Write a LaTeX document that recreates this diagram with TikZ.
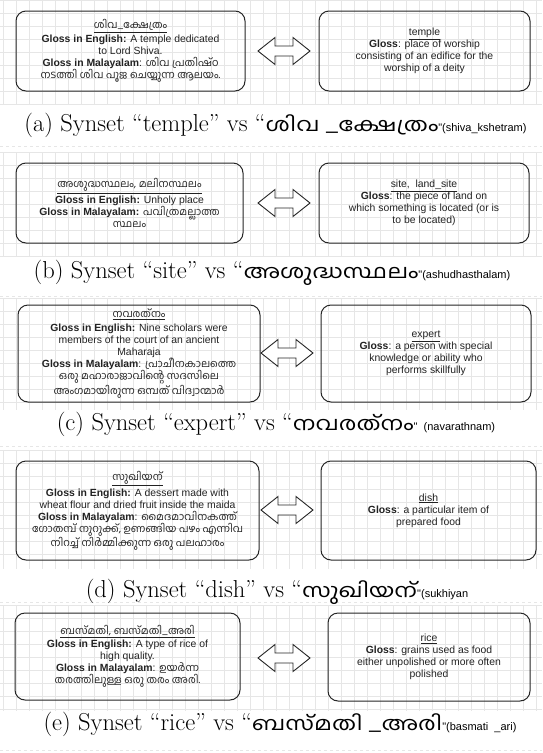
\documentclass[tikz,border=0pt]{standalone}
\usepackage{fontspec}
\newfontfamily\arial{Liberation Sans}
\newfontfamily\malfont[Script=Malayalam]{Hind Kochi}
\newcommand\ml[1]{{\malfont #1}}
\newcommand\capen[1]{{\fontsize{24.5}{28}\selectfont #1}}
\newcommand\capml[1]{\scalebox{1.25}[1]{\malfont\fontsize{19}{28}\selectfont #1}}
\newcommand\capar[1]{{\arial\fontsize{11}{28}\selectfont #1}}
\definecolor{txt}{HTML}{222222}
\definecolor{gridc}{HTML}{E6E6E6}
\begin{document}
\begin{tikzpicture}[x=1pt,y=-1pt,
  box/.style={draw=black!85, line width=1pt, rounded corners=10pt, align=center,
    font=\arial\fontsize{10.4}{12}\selectfont, text=txt, inner sep=2pt},
  gridline/.style={draw=gridc, line width=0.4pt},
  arrowline/.style={draw=black!85, line width=0.9pt, fill=white, line join=miter},
  caption/.style={anchor=base, inner sep=0pt, text=black},
  dblarrow/.pic={\path[arrowline] (-26,0) -- (-9,-13.5) -- (-9,-5) -- (9,-5) -- (9,-13.5) -- (26,0)
     -- (9,13.5) -- (9,5) -- (-9,5) -- (-9,13.5) -- cycle;}
]
\useasboundingbox (0,0) rectangle (542,753);
\fill[white] (0,0) rectangle (542,753);
% grids
\foreach \ya/\yb in {0/104,152/256,298/410,450/569,605/711}{
  \foreach \x in {3,16,...,542} {\draw[gridline] (\x,\ya) -- (\x,\yb);}
  \foreach \k in {0,...,8} {\draw[gridline] (0,{\ya+13*\k}) -- (542,{\ya+13*\k});}
}
\foreach \yy in {146,296,446,602,750} {\draw[gridc, dashed, line width=0.4pt] (0,\yy) -- (542,\yy);}

% panel a
\node[box, minimum width=229, minimum height=80] (aL) at (130.5,51) {%
\underline{\ml{ശിവ\_ക്ഷേത്രം}}\\[1.5pt]
\textbf{Gloss in English:} A temple dedicated\\
to Lord Shiva.\\
\textbf{Gloss in Malayalam}: \ml{ശിവ പ്രതിഷ്ഠ}\\
\ml{നടത്തി ശിവ പൂജ ചെയ്യുന്ന ആലയം.}};
\node[box, minimum width=211, minimum height=80] (aR) at (424.5,51) {%
\underline{temple}\\
\textbf{Gloss}: place of worship\\
consisting of an edifice for the\\
worship of a deity};
\pic at (284,51) {dblarrow};
\node[caption] (capa) at (275.5,131) {\capen{(a) Synset “temple” vs “}\capml{ശിവ \_ക്ഷേത്രം}\capar{"(shiva\_kshetram)}};

% panel b
\node[box, minimum width=227, minimum height=80] (bL) at (129.5,203) {%
\underline{\ml{അശുദ്ധസ്ഥലം, മലിനസ്ഥലം}}\\[1.5pt]
\textbf{Gloss in English:} Unholy place\\
\textbf{Gloss in Malayalam:} \ml{പവിത്രമല്ലാത്ത}\\
\ml{സ്ഥലം}};
\node[box, minimum width=210, minimum height=80] (bR) at (424,203) {%
\underline{site,\ \ land\_site}\\
\textbf{Gloss}: the piece of land on\\
which something is located (or is\\
to be located)};
\pic at (284,203) {dblarrow};
\node[caption] (capb) at (272,278) {\capen{(b) Synset “site” vs “}\capml{അശുദ്ധസ്ഥലം}\capar{"(ashudhasthalam)}};

% panel c
\node[box, minimum width=242, minimum height=97] (cL) at (139,353.5) {%
\underline{\ml{നവരത്നം}}\\[1.5pt]
\textbf{Gloss in English:} Nine scholars were\\
members of the court of an ancient\\
Maharaja\\
\textbf{Gloss in Malayalam}: \ml{പ്രാചീനകാലത്തെ}\\
\ml{ഒരു മഹാരാജാവിന്റെ സദസിലെ}\\
\ml{അംഗമായിരുന്ന ഒമ്പത് വിദ്വാന്മാർ}};
\node[box, minimum width=210, minimum height=97] (cR) at (426,353.5) {%
\underline{expert}\\
\textbf{Gloss}: a person with special\\
knowledge or ability who\\
performs skillfully};
\pic at (287,353) {dblarrow};
\node[caption] (capc) at (276,430) {\capen{(c) Synset “expert” vs “}\capml{നവരത്നം}\capar{"\ \ (navarathnam)}};

% panel d
\node[box, minimum width=243, minimum height=99] (dL) at (137.5,510.5) {%
\underline{\ml{സുഖിയന്}}\\[1.5pt]
\textbf{Gloss in English:} A dessert made with\\
wheat flour and dried fruit inside the maida\\
\textbf{Gloss in Malayalam}: \ml{മൈദമാവിനകത്ത്}\\
\ml{ഗോതമ്പ് നുറുക്ക്, ഉണങ്ങിയ പഴം എന്നിവ}\\
\ml{നിറച്ച് നിർമ്മിക്കുന്ന ഒരു പലഹാരം}};
\node[box, minimum width=215, minimum height=99] (dR) at (428.5,510.5) {%
\underline{dish}\\
\textbf{Gloss}: a particular item of\\
prepared food};
\pic at (287,510) {dblarrow};
\node[caption] (capd) at (277,597) {\capen{(d) Synset “dish” vs “}\capml{സുഖിയന്}\capar{"(sukhiyan}};

% panel e
\node[box, minimum width=225, minimum height=87] (eL) at (127.5,656.5) {%
\underline{\ml{ബസ്മതി, ബസ്മതി\_അരി}}\\[1.5pt]
\textbf{Gloss in English:} A type of rice of\\
high quality.\\
\textbf{Gloss in Malayalam}: \ml{ഉയർന്ന}\\
\ml{തരത്തിലുള്ള ഒരു തരം അരി.}};
\node[box, minimum width=202, minimum height=88] (eR) at (429,657) {%
\underline{rice}\\
\textbf{Gloss}: grains used as food\\
either unpolished or more often\\
polished};
\pic at (284,658) {dblarrow};
\node[caption] (cape) at (280,730) {\capen{(e) Synset “rice” vs “}\capml{ബസ്മതി \_അരി}\capar{"(basmati\ \ \_ari)}};
\end{tikzpicture}
\end{document}
